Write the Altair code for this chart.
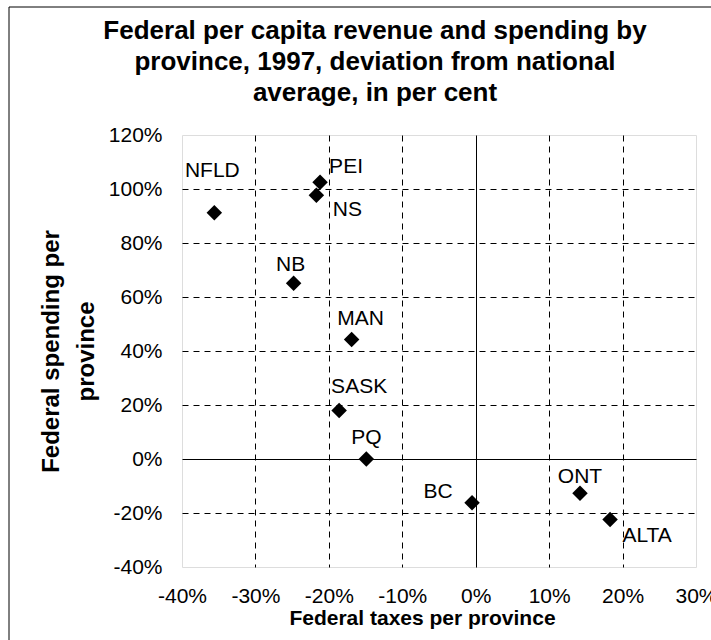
import altair as alt
import pandas as pd

# Deviation from the national average, in per cent
provinces = ["NFLD", "PEI", "NS", "NB", "MAN", "SASK", "PQ", "BC", "ONT", "ALTA"]
taxes = [-35.6, -21.2, -21.7, -24.8, -16.9, -18.6, -14.9, -0.5, 14.2, 18.3]
spending = [91.2, 102.5, 97.7, 65.1, 44.3, 18.0, 0.0, -16.2, -12.7, -22.4]

x_ticks = [-40, -30, -20, -10, 0, 10, 20, 30]
y_ticks = [-40, -20, 0, 20, 40, 60, 80, 100, 120]

title_lines = ["Federal per capita revenue and spending by",
               "province, 1997, deviation from national",
               "average, in per cent"]

# label placement around each marker (pixels)
label_dx = {"NFLD": -2, "PEI": 26, "NS": 31, "NB": -3, "MAN": 9,
            "SASK": 20, "PQ": 0, "BC": -34, "ONT": 0, "ALTA": 37}
label_dy = {"NFLD": -42, "PEI": -15, "NS": 15, "NB": -18, "MAN": -20,
            "SASK": -23, "PQ": -21, "BC": -11, "ONT": -16, "ALTA": 17}

df = pd.DataFrame({"province": provinces, "taxes": taxes, "spending": spending})

FONT = "Liberation Sans"
W, H = 514, 432
PAD = {"left": 182, "top": 135, "right": 15, "bottom": 73}

grid_dash = {"condition": {"test": "datum.value === 0", "value": []}, "value": [6, 5]}

def grid_opacity(lo, hi):
    return {"condition": {"test": f"datum.value === {lo} || datum.value === {hi}", "value": 0},
            "value": 1}

x_enc = alt.X(
    "taxes:Q",
    scale=alt.Scale(domain=[-40, 30], nice=False, zero=False),
    axis=alt.Axis(
        values=x_ticks, labelExpr="datum.value + '%'", title="Federal taxes per province",
        grid=True, gridColor="black", gridWidth=1, gridDash=grid_dash,
        gridOpacity=grid_opacity(-40, 30), ticks=False, domain=False,
        labelFont=FONT, labelFontSize=21, labelColor="black", labelPadding=18,
        labelFlush=False, labelOverlap=False,
        titleFont=FONT, titleFontSize=21, titleFontWeight="bold", titleColor="black",
        titleBaseline="middle", titleX=240, titleY=51,
    ),
)
y_enc = alt.Y(
    "spending:Q",
    scale=alt.Scale(domain=[-40, 120], nice=False, zero=False),
    axis=alt.Axis(
        values=y_ticks, labelExpr="datum.value + '%'",
        title=["Federal spending per", "province"],
        grid=True, gridColor="black", gridWidth=1, gridDash=grid_dash,
        gridOpacity=grid_opacity(-40, 120), ticks=False, domain=False,
        labelFont=FONT, labelFontSize=21, labelColor="black", labelPadding=20,
        labelFlush=False, labelOverlap=False,
        titleFont=FONT, titleFontSize=24, titleFontWeight="bold", titleColor="black",
        titleBaseline="middle", titleAngle=-90, titleX=-131, titleY=H / 2, titleLineHeight=35,
    ),
)

base = alt.Chart(df).encode(x=x_enc, y=y_enc)

points = base.mark_point(shape="diamond", filled=True, size=240, color="black", opacity=1)

labels = [
    base.transform_filter(alt.datum.province == p).mark_text(
        font=FONT, fontSize=21, color="black", align="center", baseline="middle",
        dx=label_dx[p], dy=label_dy[p],
    ).encode(text="province:N")
    for p in provinces
]

# chart heading, centred over the figure
heading = alt.Chart(pd.DataFrame({"t": [title_lines]})).mark_text(
    font=FONT, fontSize=26, fontWeight="bold", color="black",
    align="center", baseline="alphabetic", lineHeight=31,
).encode(text="t", x=alt.value(193), y=alt.value(-96))

# thin outer frame along the left and top of the figure
frame_df = pd.DataFrame({"k": [0]})
frame_left = alt.Chart(frame_df).mark_rule(color="black", strokeWidth=1).encode(
    x=alt.value(-173), y=alt.value(-128), y2=alt.value(H + PAD["bottom"]))
frame_top = alt.Chart(frame_df).mark_rule(color="black", strokeWidth=1).encode(
    x=alt.value(-173), x2=alt.value(W + PAD["right"]), y=alt.value(-128))

chart = alt.layer(frame_left, frame_top, heading, points, *labels).properties(
    width=W, height=H,
    autosize=alt.AutoSizeParams(type="none"),
    padding=PAD,
).configure_view(stroke="#888888", strokeWidth=2).configure(background="white")

chart.save("out.html", embed_options={"renderer": "svg", "actions": False})
